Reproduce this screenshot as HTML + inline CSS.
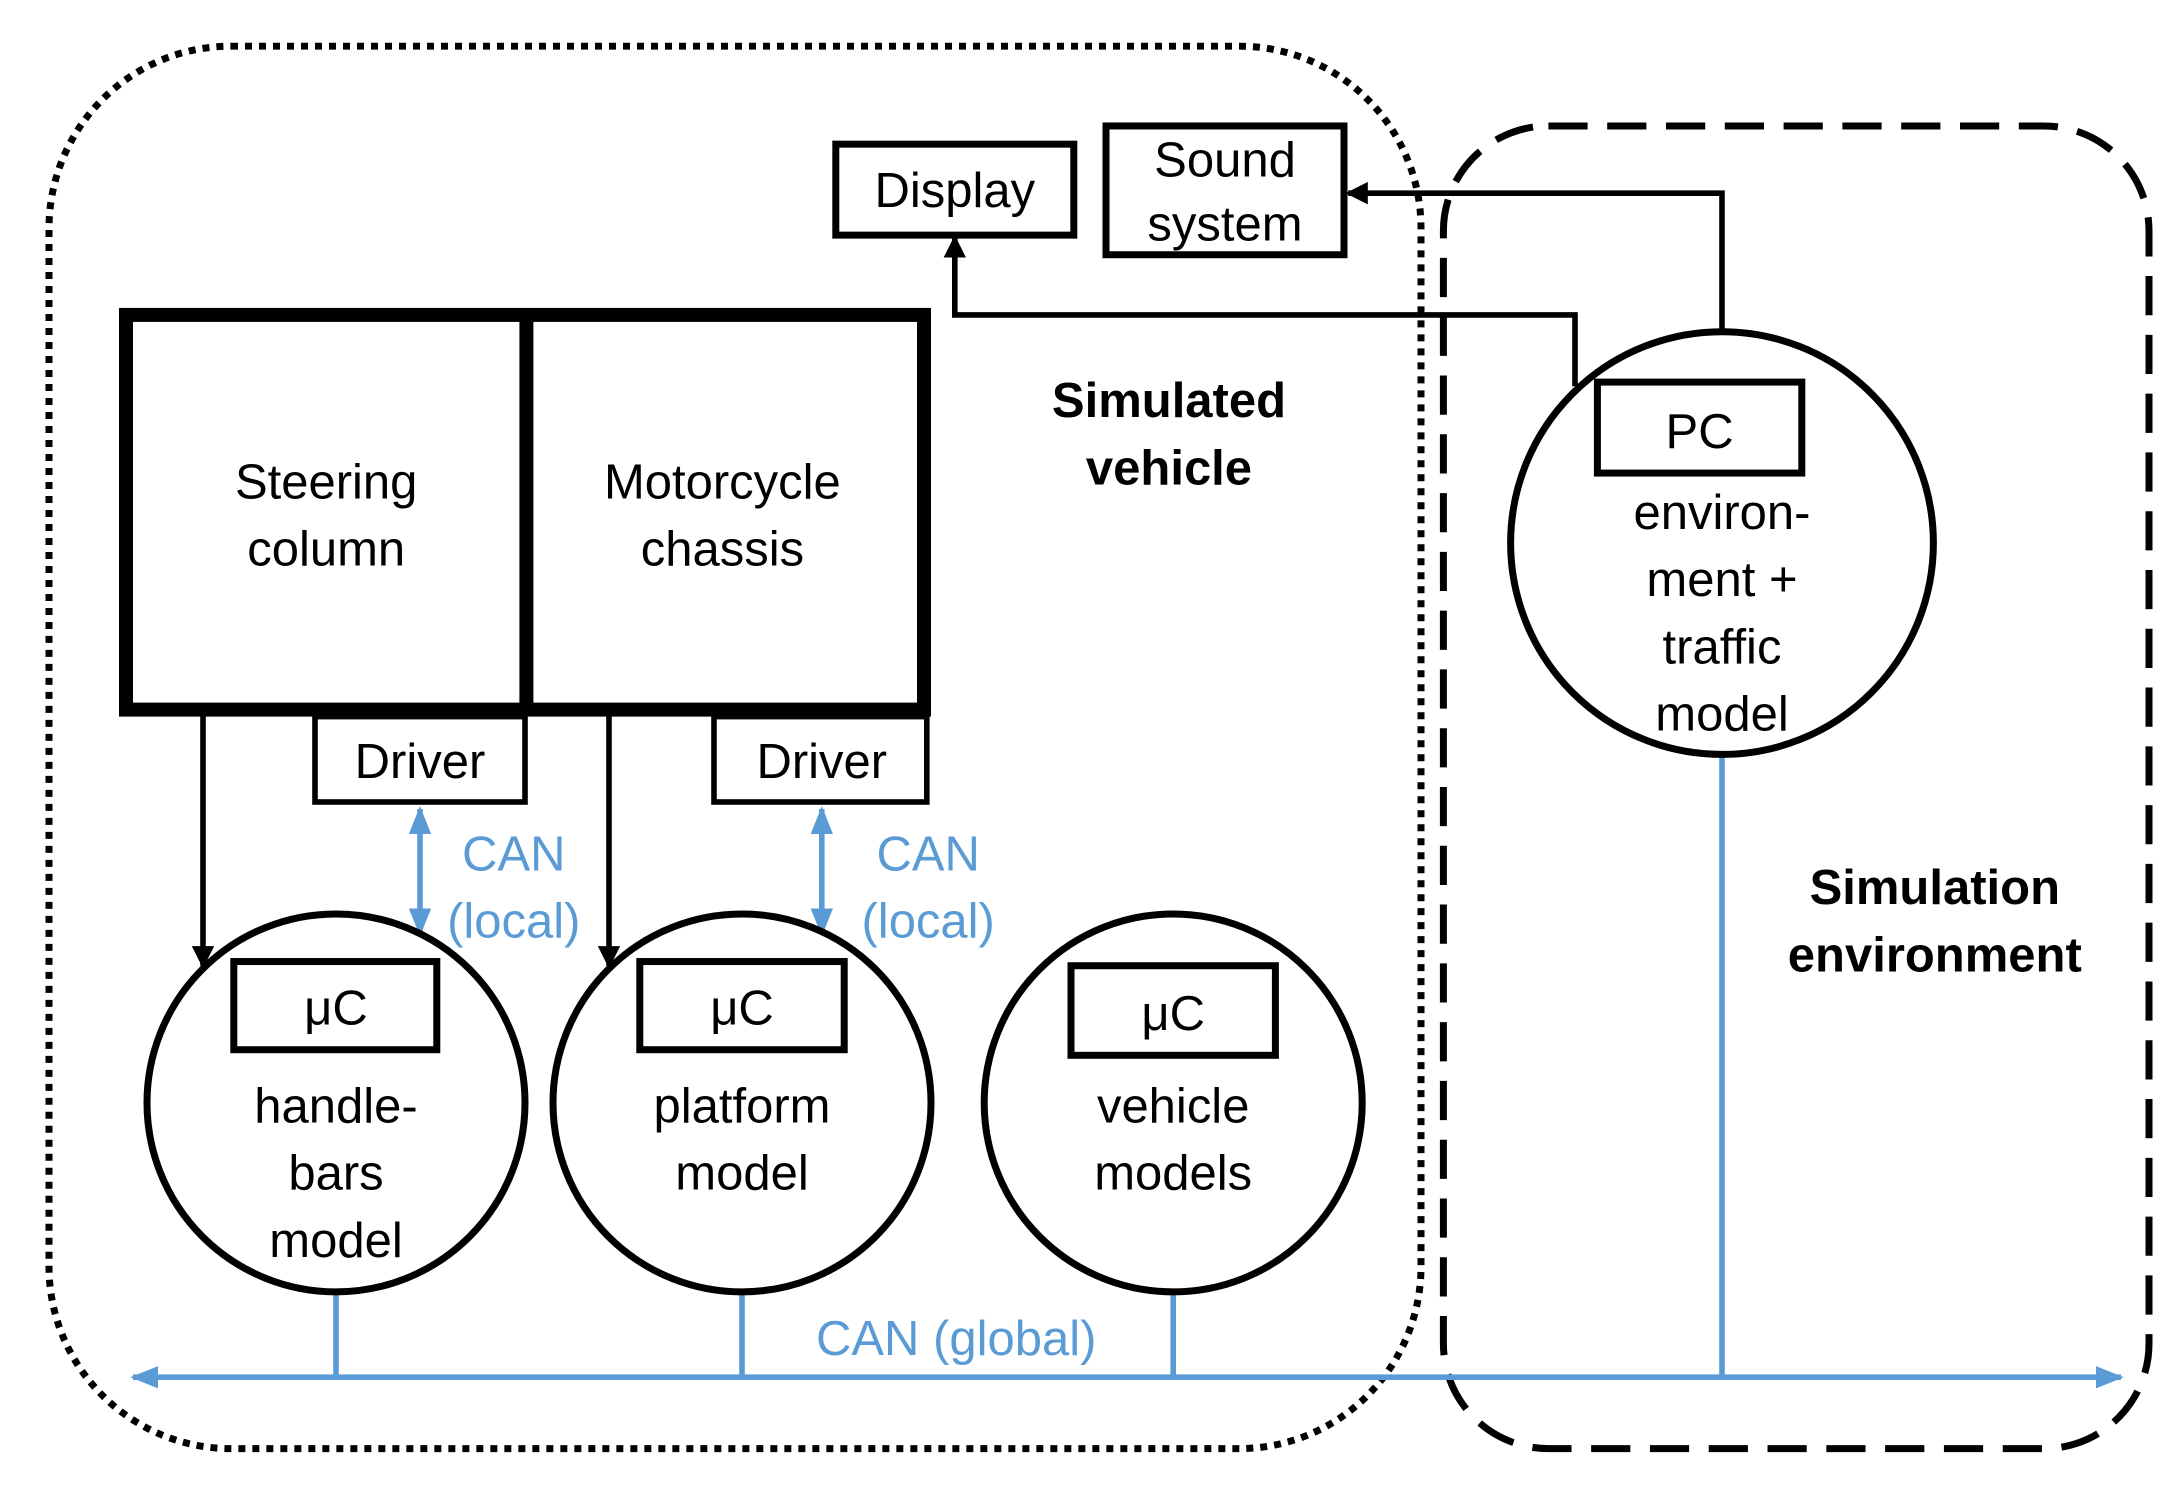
<!DOCTYPE html>
<html><head><meta charset="utf-8"><style>
html,body{margin:0;padding:0;background:#fff;}
svg{display:block;}
text{font-family:"Liberation Sans",sans-serif;font-size:35px;text-anchor:middle;}
.b{fill:#5b9bd5;}
</style></head><body>
<svg width="2184" height="1492" viewBox="0 0 1560 1066" preserveAspectRatio="none" xmlns="http://www.w3.org/2000/svg">
<defs>
<marker id="ak" markerWidth="4" markerHeight="4" refX="3.5" refY="2" orient="auto" markerUnits="strokeWidth"><path d="M0,0 L4,2 L0,4 z" fill="#000"/></marker>
<marker id="ab" markerWidth="5" markerHeight="4" refX="4.5" refY="2" orient="auto-start-reverse" markerUnits="strokeWidth"><path d="M0,0 L5,2 L0,4 z" fill="#5b9bd5"/></marker>
</defs>
<rect x="35" y="33" width="980" height="1002" rx="130" fill="none" stroke="#000" stroke-width="5" stroke-dasharray="5 5"/>
<rect x="1031" y="90" width="504" height="945" rx="75" fill="none" stroke="#000" stroke-width="5" stroke-dasharray="28 14"/>
<line x1="95" y1="984" x2="1515" y2="984" stroke="#5b9bd5" stroke-width="4" marker-start="url(#ab)" marker-end="url(#ab)"/>
<line x1="240" y1="922" x2="240" y2="984" stroke="#5b9bd5" stroke-width="4"/>
<line x1="530" y1="922" x2="530" y2="984" stroke="#5b9bd5" stroke-width="4"/>
<line x1="838" y1="922" x2="838" y2="984" stroke="#5b9bd5" stroke-width="4"/>
<line x1="1230" y1="538" x2="1230" y2="984" stroke="#5b9bd5" stroke-width="4"/>
<line x1="300" y1="578" x2="300" y2="667" stroke="#5b9bd5" stroke-width="4" marker-start="url(#ab)" marker-end="url(#ab)"/>
<line x1="587" y1="578" x2="587" y2="667" stroke="#5b9bd5" stroke-width="4" marker-start="url(#ab)" marker-end="url(#ab)"/>
<text x="367" y="622" class="b">CAN</text><text x="367" y="670" class="b">(local)</text>
<text x="663" y="622" class="b">CAN</text><text x="663" y="670" class="b">(local)</text>
<text x="683" y="968" class="b">CAN (global)</text>
<polyline points="1230,238 1230,138 963,138" fill="none" stroke="#000" stroke-width="4" marker-end="url(#ak)"/>
<polyline points="1125,276 1125,225 682,225 682,170" fill="none" stroke="#000" stroke-width="4" marker-end="url(#ak)"/>
<line x1="145" y1="507" x2="145" y2="690" stroke="#000" stroke-width="4" marker-end="url(#ak)"/>
<line x1="435" y1="507" x2="435" y2="690" stroke="#000" stroke-width="4" marker-end="url(#ak)"/>
<rect x="597" y="103" width="170" height="65" fill="#fff" stroke="#000" stroke-width="5"/>
<text x="682" y="148">Display</text>
<rect x="790" y="90" width="170" height="92" fill="#fff" stroke="#000" stroke-width="5"/>
<text x="875" y="126">Sound</text><text x="875" y="172">system</text>
<rect x="90" y="225" width="570" height="282" fill="#fff" stroke="#000" stroke-width="10"/>
<line x1="376" y1="225" x2="376" y2="507" stroke="#000" stroke-width="10"/>
<text x="233" y="356">Steering</text><text x="233" y="404">column</text>
<text x="516" y="356">Motorcycle</text><text x="516" y="404">chassis</text>
<rect x="225" y="512" width="150" height="61" fill="#fff" stroke="#000" stroke-width="4"/>
<text x="300" y="556">Driver</text>
<rect x="510" y="512" width="152" height="61" fill="#fff" stroke="#000" stroke-width="4"/>
<text x="587" y="556">Driver</text>
<text x="835" y="298" font-weight="bold">Simulated</text><text x="835" y="346" font-weight="bold">vehicle</text>
<text x="1382" y="646" font-weight="bold">Simulation</text><text x="1382" y="694" font-weight="bold">environment</text>
<ellipse cx="240" cy="788" rx="135" ry="135" fill="none" stroke="#000" stroke-width="5"/>
<rect x="167" y="687" width="145" height="63" fill="#fff" stroke="#000" stroke-width="5"/>
<text x="240" y="732">μC</text>
<text x="240" y="802">handle-</text><text x="240" y="850">bars</text><text x="240" y="898">model</text>
<ellipse cx="530" cy="788" rx="135" ry="135" fill="none" stroke="#000" stroke-width="5"/>
<rect x="457" y="687" width="146" height="63" fill="#fff" stroke="#000" stroke-width="5"/>
<text x="530" y="732">μC</text>
<text x="530" y="802">platform</text><text x="530" y="850">model</text>
<ellipse cx="838" cy="788" rx="135" ry="135" fill="none" stroke="#000" stroke-width="5"/>
<rect x="765" y="690" width="146" height="64" fill="#fff" stroke="#000" stroke-width="5"/>
<text x="838" y="736">μC</text>
<text x="838" y="802">vehicle</text><text x="838" y="850">models</text>
<ellipse cx="1230" cy="388" rx="151" ry="151" fill="none" stroke="#000" stroke-width="5"/>
<rect x="1141" y="273" width="146" height="65" fill="#fff" stroke="#000" stroke-width="5"/>
<text x="1214" y="320">PC</text>
<text x="1230" y="378">environ-</text><text x="1230" y="426">ment +</text><text x="1230" y="474">traffic</text><text x="1230" y="522">model</text>
</svg>
</body></html>
